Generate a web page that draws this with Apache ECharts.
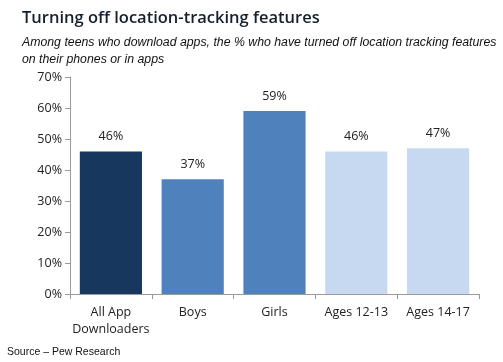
<!DOCTYPE html>
<html><head><meta charset="utf-8">
<script src="https://cdn.jsdelivr.net/npm/echarts@6/dist/echarts.min.js"></script>
<style>html,body{margin:0;padding:0;background:#fff}#c{width:503px;height:362px}</style>
</head><body><div id="c"></div>
<script>
const categories = ['All App\nDownloaders', 'Boys', 'Girls', 'Ages 12-13', 'Ages 14-17'];
const values = [46, 37, 59, 46, 47];
const barColors = ['#17375E', '#4F81BD', '#4F81BD', '#C6D9F1', '#C6D9F1'];
const yTicks = [0, 10, 20, 30, 40, 50, 60, 70];

const chart = echarts.init(document.getElementById('c'));
chart.setOption({
  backgroundColor: '#fff',
  animation: false,
  title: [
    { text: 'Turning off location-tracking features', left: 17, top: 5,
      textStyle: { fontFamily: 'Open Sans', fontSize: 16.5, fontWeight: 600, color: '#14202e' } },
    { text: 'Among teens who download apps, the % who have turned off location tracking features\non their phones or in apps', left: 17, top: 29,
      textStyle: { fontFamily: 'Liberation Sans', fontStyle: 'italic', fontSize: 12.3, fontWeight: 'normal', color: '#111', lineHeight: 17 } },
    { text: 'Source – Pew Research', left: 2, top: 342,
      textStyle: { fontFamily: 'Liberation Sans', fontSize: 10.5, fontWeight: 'normal', color: '#111' } }
  ],
  grid: { left: 70, right: 24, top: 77, bottom: 68 },
  xAxis: {
    type: 'category', data: categories,
    axisLine: { lineStyle: { color: '#9a9a9a' } },
    axisTick: { show: true, interval: 0, alignWithLabel: false, lineStyle: { color: '#9a9a9a' }, length: 5 },
    axisLabel: { interval: 0, fontFamily: 'Open Sans', fontSize: 12.5, color: '#222', lineHeight: 17, margin: 10 }
  },
  yAxis: {
    type: 'value', min: yTicks[0], max: yTicks[yTicks.length - 1], interval: 10,
    axisLine: { show: true, lineStyle: { color: '#9a9a9a' } },
    axisTick: { show: true, lineStyle: { color: '#9a9a9a' }, length: 5 },
    splitLine: { show: false },
    axisLabel: { formatter: '{value}%', fontFamily: 'Open Sans', fontSize: 12.5, color: '#222', margin: 8 }
  },
  series: [{
    type: 'bar',
    data: values.map((v, i) => ({ value: v, itemStyle: { color: barColors[i] } })),
    barCategoryGap: '24%',
    label: { show: true, position: 'top', formatter: '{c}%', fontFamily: 'Open Sans', fontSize: 12.5, color: '#222', distance: 8 }
  }]
});
</script></body></html>
